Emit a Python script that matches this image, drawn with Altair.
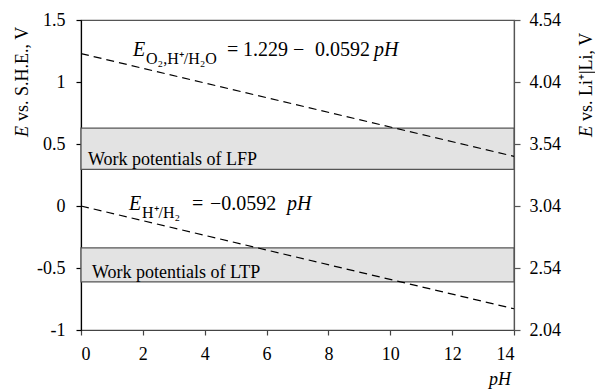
import altair as alt
import pandas as pd

# Potential window (V vs. S.H.E.) and pH range
ph_ticks = [0, 2, 4, 6, 8, 10, 12, 14]
she_ticks = [-1, -0.5, 0, 0.5, 1, 1.5]
li_ticks = [2.04, 2.54, 3.04, 3.54, 4.04, 4.54]

# Water stability lines: E = a - b*pH
ph_ends = [0, 14]
o2_a, o2_b = 1.229, 0.0592
h2_a, h2_b = 0.0, 0.0592

# Electrode work-potential bands (V vs. S.H.E.)
band_names = ["Work potentials of LFP", "Work potentials of LTP"]
band_low = [0.295, -0.612]
band_high = [0.628, -0.338]

serif = "Liberation Serif"

bands = pd.DataFrame({"name": band_names, "lo": band_low, "hi": band_high,
                      "x0": [0] * 2, "x1": [14] * 2})
lines = pd.DataFrame({
    "pH": ph_ends * 2,
    "E": [o2_a - o2_b * p for p in ph_ends] + [h2_a - h2_b * p for p in ph_ends],
    "couple": ["O2"] * 2 + ["H2"] * 2,
})

x_scale = alt.Scale(domain=[0, 14], nice=False, zero=False)
y_scale = alt.Scale(domain=[-1, 1.5], nice=False, zero=False)

band_layer = alt.Chart(bands).mark_rect(
    fill="#e3e3e3", stroke="#555555", strokeWidth=1.3
).encode(
    x=alt.X("x0:Q", scale=x_scale,
            axis=alt.Axis(values=ph_ticks, title=None, grid=False, tickSize=5,
                          labelPadding=10, domainColor="#444444", tickColor="#444444",
                          labelFont=serif, labelFontSize=18, labelColor="black")),
    x2="x1:Q",
    y=alt.Y("lo:Q", scale=y_scale,
            axis=alt.Axis(values=she_ticks, title=None, grid=False, tickSize=5,
                          labelPadding=11, labelExpr="'' + datum.value",
                          domainColor="black", tickColor="black",
                          labelFont=serif, labelFontSize=18, labelColor="black")),
    y2="hi:Q",
)

line_layer = alt.Chart(lines).mark_line(
    color="black", strokeDash=[8, 5], strokeWidth=1.2
).encode(
    x=alt.X("pH:Q", scale=x_scale),
    y=alt.Y("E:Q", scale=y_scale),
    detail="couple:N",
)

# Annotation text pieces (pixel positions within the plot area)
normal_txt = pd.DataFrame({
    "t": ["O₂,H⁺/H₂O", "=", "1.229", "−", "0.0592",
          "H⁺/H₂", "=", "−0.0592",
          "Work potentials of LFP", "Work potentials of LTP"],
    "px": [65, 146, 162, 212, 234, 61, 111, 129, 7, 11],
    "py": [44, 36, 36, 36, 36, 198, 190, 190, 145, 258],
    "fs": [16, 20, 20, 20, 20, 16, 20, 20, 18, 18],
})
italic_txt = pd.DataFrame({
    "t": ["E", "pH", "E", "pH", "pH"],
    "px": [52, 293, 48, 206, 430],
    "py": [36, 36, 190, 190, 365],
    "fs": [20, 20, 20, 20, 18],
    "al": ["left", "left", "left", "left", "right"],
})

normal_layer = alt.Chart(normal_txt).mark_text(
    font=serif, align="left", baseline="alphabetic", color="black"
).encode(
    x=alt.X("px:Q", scale=None), y=alt.Y("py:Q", scale=None),
    text="t:N", size=alt.Size("fs:Q", scale=None, legend=None),
)
italic_left = alt.Chart(italic_txt[italic_txt.al == "left"]).mark_text(
    font=serif, fontStyle="italic", align="left", baseline="alphabetic", color="black"
).encode(
    x=alt.X("px:Q", scale=None), y=alt.Y("py:Q", scale=None),
    text="t:N", size=alt.Size("fs:Q", scale=None, legend=None),
)
italic_right = alt.Chart(italic_txt[italic_txt.al == "right"]).mark_text(
    font=serif, fontStyle="italic", align="right", baseline="alphabetic", color="black"
).encode(
    x=alt.X("px:Q", scale=None), y=alt.Y("py:Q", scale=None),
    text="t:N", size=alt.Size("fs:Q", scale=None, legend=None),
)

# Rotated axis titles
def vtitle(text, x, y, italic):
    return alt.Chart(pd.DataFrame({"t": [text]})).mark_text(
        font=serif, fontSize=18, angle=270, align="left", baseline="alphabetic",
        color="black", fontStyle="italic" if italic else "normal",
    ).encode(x=alt.value(x), y=alt.value(y), text="t:N")

titles = [
    vtitle("E", -53, 117, True), vtitle("vs. S.H.E., V", -53, 101, False),
    vtitle("E", 511, 117, True), vtitle("vs. Li⁺|Li, V", 511, 101, False),
]

left = alt.layer(band_layer, line_layer, normal_layer, italic_left, italic_right, *titles)

# Secondary axis in V vs. Li+/Li
right = alt.Chart(pd.DataFrame({"v": li_ticks})).mark_tick(opacity=0).encode(
    y=alt.Y("v:Q", scale=alt.Scale(domain=[li_ticks[0], li_ticks[-1]], nice=False, zero=False),
            axis=alt.Axis(orient="right", values=li_ticks, format=".2f", title=None,
                          grid=False, tickSize=6, labelPadding=9,
                          domainColor="#555555", tickColor="#555555",
                          labelFont=serif, labelFontSize=18, labelColor="black")),
)

chart = alt.layer(left, right).resolve_scale(y="independent").properties(
    width=433, height=310,
    autosize=alt.AutoSizeParams(type="none"),
    padding={"left": 81, "top": 20, "right": 81, "bottom": 62},
).configure_view(
    stroke="#555555", strokeWidth=1.2
).configure_axis(
    domainWidth=1.2, tickWidth=1.2,
)

chart.save("out.html", embed_options={"renderer": "svg", "actions": False})
